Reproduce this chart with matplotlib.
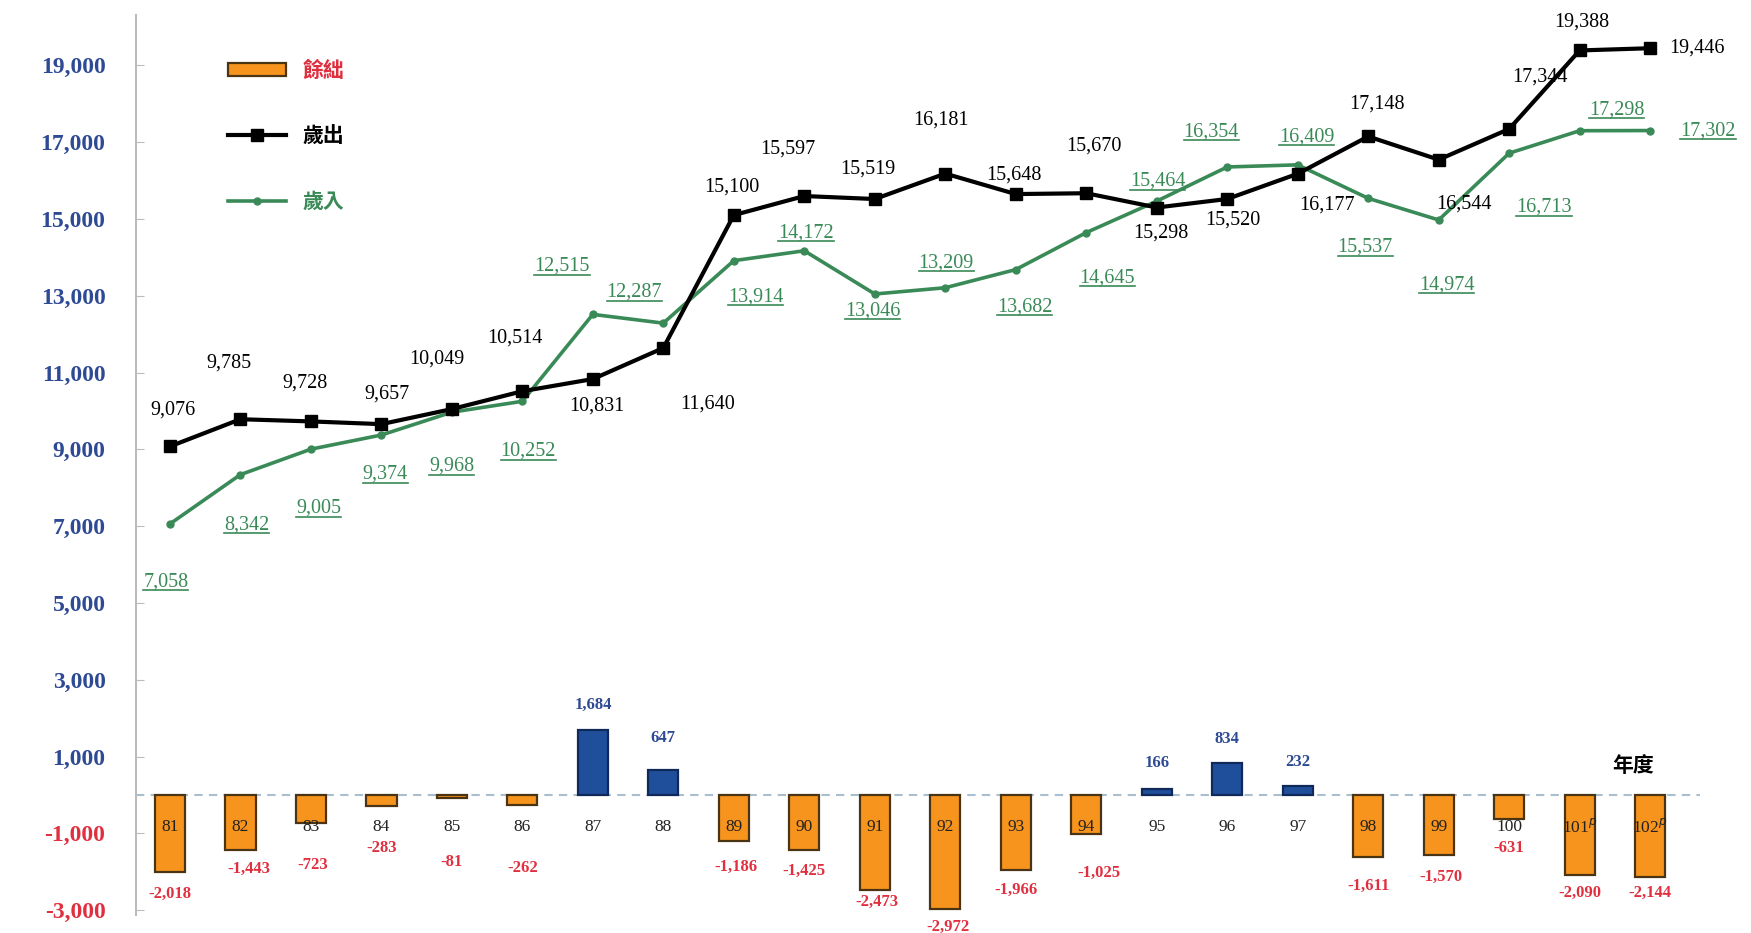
import matplotlib
matplotlib.use('Agg')
import matplotlib.pyplot as plt
import numpy as np
from matplotlib.lines import Line2D
from matplotlib.patches import Patch
from matplotlib.transforms import IdentityTransform

# data
years = ['81', '82', '83', '84', '85', '86', '87', '88', '89', '90', '91',
         '92', '93', '94', '95', '96', '97', '98', '99', '100', '101$^p$', '102$^p$']
expenditure = [9076, 9785, 9728, 9657, 10049, 10514, 10831, 11640, 15100, 15597, 15519,
               16181, 15648, 15670, 15298, 15520, 16177, 17148, 16544, 17344, 19388, 19446]
revenue = [7058, 8342, 9005, 9374, 9968, 10252, 12515, 12287, 13914, 14172, 13046,
           13209, 13682, 14645, 15464, 16354, 16409, 15537, 14974, 16713, 17298, 17302]
balance = [-2018, -1443, -723, -283, -81, -262, 1684, 647, -1186, -1425, -2473,
           -2972, -1966, -1025, 166, 834, 232, -1611, -1570, -631, -2090, -2144]
yticks = [-3000, -1000, 1000, 3000, 5000, 7000, 9000, 11000, 13000, 15000, 17000, 19000]

# label offsets in pixels (dx, dy)
exp_off = [(3, 36), (-11, 56), (-6, 38), (6, 30), (-15, 50), (-7, 53), (4, -27), (44, -56),
           (-2, 28), (-16, 47), (-7, 30), (-4, 54), (-2, 19), (8, 47), (4, -26), (6, -21),
           (29, -31), (9, 32), (25, -44), (31, 52), (2, 28), (47, 0)]
rev_off = [(-4, -58), (6, -50), (8, -59), (4, -39), (0, -54), (6, -50), (-31, 48), (-29, 31),
           (22, -36), (2, 18), (-2, -17), (1, 25), (9, -37), (21, -45), (1, 20), (-16, 35),
           (9, 28), (-3, -49), (8, -65), (35, -54), (37, 21), (58, 0)]
bal_off = [(0, -21), (8, -18), (2, -42), (0, -42), (0, -64), (0, -63), (0, 25), (0, 32),
           (2, -26), (0, -21), (2, -12), (3, -18), (0, -19), (13, -39), (0, 26), (0, 24),
           (0, 24), (0, -29), (2, -22), (0, -29), (0, -18), (0, -16)]

SERIF = 'Liberation Serif'
CJK = ['Noto Sans CJK TC', 'DejaVu Sans']
ORANGE = '#F7941D'
NAVY = '#1F4E9A'
GREEN = '#3A8A58'
RED = '#E0303F'
BLUE = '#2E4A94'

fig = plt.figure(figsize=(17.51, 9.33), dpi=100)
ax = fig.add_axes([0.0777, 0.0193, 0.8933, 0.9647])

x = np.arange(len(years))

# bars
bar_colors = [NAVY if b > 0 else ORANGE for b in balance]
bar_edges = ['#0F2A5A' if b > 0 else '#4A3414' for b in balance]
ax.bar(x, balance, width=0.43, color=bar_colors, edgecolor=bar_edges, linewidth=1.6, zorder=2)

ax.axhline(0, color='#A9BFD0', linestyle=(0, (4, 3)), linewidth=1.5, zorder=1)

# lines
ax.plot(x, revenue, color=GREEN, linewidth=2.6, marker='o', markersize=5, zorder=3)
ax.plot(x, expenditure, color='black', linewidth=3, marker='s', markersize=8, zorder=4)

# year labels
for i, yr in enumerate(years):
    ax.text(i, -830, yr, ha='center', va='center', fontsize=12.5, family=SERIF,
            color='#222222', zorder=5)

# balance labels
for i, b in enumerate(balance):
    ax.annotate(f'{b:,}', xy=(i, b), xytext=bal_off[i], textcoords='offset pixels',
                ha='center', va='center', fontsize=12, fontweight='bold', family=SERIF,
                color=BLUE if b > 0 else RED, zorder=5)

# line labels
for i, v in enumerate(expenditure):
    ax.annotate(f'{v:,}', xy=(i, v), xytext=exp_off[i], textcoords='offset pixels',
                ha='center', va='center', fontsize=14.5, family=SERIF, color='black', zorder=5)

green_texts = []
for i, v in enumerate(revenue):
    t = ax.annotate(f'{v:,}', xy=(i, v), xytext=rev_off[i], textcoords='offset pixels',
                    ha='center', va='center', fontsize=14.5, family=SERIF, color=GREEN, zorder=5)
    green_texts.append(t)

ax.text(20.76, 780, '年度', ha='center', va='center', fontsize=15, fontweight='bold',
        family=CJK, color='black')

# axes
ax.set_xlim(-0.48, 21.71)
ax.set_ylim(-3125, 20313)
ax.set_xticks([])
ax.set_yticks(yticks)
ax.set_yticklabels([f'{t:,}' for t in yticks], family=SERIF, fontweight='bold', fontsize=17)
for lbl, t in zip(ax.get_yticklabels(), yticks):
    lbl.set_color(BLUE if t > 0 else RED)
ax.tick_params(axis='y', direction='in', length=6, color='#BBBBBB', pad=22)
for s in ['top', 'right', 'bottom']:
    ax.spines[s].set_visible(False)
ax.spines['left'].set_color('#BBBBBB')
ax.spines['left'].set_linewidth(1.5)

# legend
handles = [Patch(facecolor=ORANGE, edgecolor='#4A3414', linewidth=1.6),
           Line2D([0], [0], color='black', lw=3, marker='s', markersize=8),
           Line2D([0], [0], color=GREEN, lw=2.6, marker='o', markersize=5)]
leg = ax.legend(handles, ['餘絀', '歲出', '歲入'], loc='upper left',
                bbox_to_anchor=(0.052, 0.962), frameon=False,
                prop={'family': CJK, 'size': 15, 'weight': 'bold'},
                labelspacing=2.15, handlelength=2.8, handleheight=0.6, borderpad=0)
for txt, c in zip(leg.get_texts(), [RED, 'black', GREEN]):
    txt.set_color(c)

# underline the revenue labels
fig.canvas.draw()
renderer = fig.canvas.get_renderer()
for t in green_texts:
    bb = t.get_window_extent(renderer)
    fig.add_artist(Line2D([bb.x0, bb.x1], [bb.y0 + 1, bb.y0 + 1], color=GREEN, lw=1.2,
                          transform=IdentityTransform()))

fig.savefig('out.png', dpi=100)
